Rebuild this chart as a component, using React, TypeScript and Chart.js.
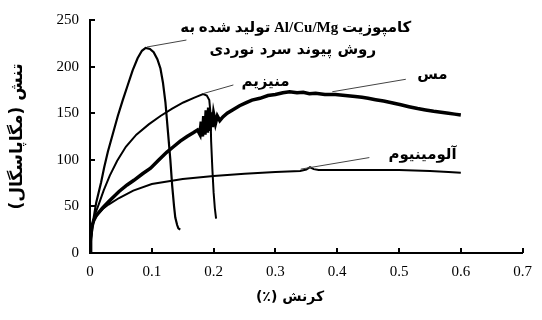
import React, { useEffect, useRef } from "react";
import { Chart, registerables } from "chart.js";

Chart.register(...registerables);

// Composite Al/Cu/Mg (cold roll bonded)
const compositeStrain = [0, 0.002, 0.005, 0.01, 0.018, 0.023, 0.029, 0.037, 0.045, 0.053, 0.061, 0.069, 0.077, 0.084, 0.09, 0.097, 0.103, 0.109, 0.114, 0.118, 0.122, 0.126, 0.13, 0.133, 0.136, 0.138, 0.141, 0.143, 0.146];
const compositeStress = [0, 17, 34, 54, 76, 92, 109, 128, 147, 164, 180, 196, 209, 217, 220, 219, 215.5, 208, 198, 183, 162, 131, 100, 72, 50, 38, 30, 26.5, 25];

// Magnesium
const magnesiumStrain = [0, 0.002, 0.005, 0.009, 0.014, 0.022, 0.032, 0.044, 0.058, 0.075, 0.095, 0.114, 0.133, 0.151, 0.168, 0.183, 0.189, 0.193, 0.195, 0.196, 0.198, 0.2, 0.202, 0.204];
const magnesiumStress = [0, 20, 33, 43, 52, 67, 83, 99, 114, 127, 138, 147, 155, 161.5, 166.5, 170.5, 169, 164, 150, 120, 90, 65, 48, 37];

// Copper
const copperStrain = [0, 0.001, 0.003, 0.006, 0.01, 0.02, 0.03, 0.047, 0.06, 0.071, 0.085, 0.098, 0.11, 0.124, 0.135, 0.146, 0.157, 0.167, 0.174, 0.178, 0.18, 0.182, 0.184, 0.186, 0.188, 0.19, 0.192, 0.194, 0.196, 0.198, 0.2, 0.203, 0.206, 0.21, 0.215, 0.222, 0.232, 0.242, 0.252, 0.262, 0.275, 0.288, 0.3, 0.312, 0.323, 0.335, 0.345, 0.355, 0.365, 0.38, 0.397, 0.413, 0.429, 0.44, 0.45, 0.462, 0.475, 0.49, 0.503, 0.516, 0.53, 0.543, 0.556, 0.568, 0.58, 0.59, 0.6];
const copperStress = [0, 15, 28, 35, 40, 48, 55, 66, 73, 78, 85, 91, 99, 108, 114, 120, 125, 129, 132, 127, 141, 125, 147, 127, 153, 129, 156, 131, 151, 135, 149, 139, 147, 142, 146, 150, 154, 158, 161, 164, 166, 169, 170, 172, 173, 172, 172.5, 171, 171.5, 170, 170, 169, 168, 167, 166, 164.5, 163, 161, 159, 157, 155, 153.5, 152, 151, 150, 149, 148];

// Aluminium
const aluminiumStrain = [0, 0.002, 0.004, 0.008, 0.013, 0.02, 0.03, 0.047, 0.07, 0.1, 0.15, 0.2, 0.25, 0.3, 0.34, 0.35, 0.356, 0.362, 0.37, 0.4, 0.45, 0.5, 0.55, 0.58, 0.6];
const aluminiumStress = [0, 22, 30, 37, 42, 47, 52, 59, 67, 74, 79.5, 82.5, 85, 87, 88, 89.5, 92, 90, 89, 89, 89, 89, 88, 87, 86];

// Axis ticks
const xTickValues = [0, 0.1, 0.2, 0.3, 0.4, 0.5, 0.6, 0.7];
const yTickValues = [0, 50, 100, 150, 200, 250];

// Axis titles
const xAxisTitle = "کرنش (٪)";
const yAxisTitle = "تنش (مگاپاسگال)";

// Curve labels and their leader lines (in data units)
const labelTexts = ["کامپوزیت Al/Cu/Mg تولید شده به", "روش پیوند سرد نوردی", "منیزیم", "مس", "آلومینیوم"];
const labelStrain = [0.333, 0.328, 0.284, 0.554, 0.538];
const labelStress = [241, 217.5, 183.5, 191, 105];
const leaderFromStrain = [0.092, 0.183, 0.392, 0.341];
const leaderFromStress = [221, 171, 173, 90];
const leaderToStrain = [0.156, 0.232, 0.511, 0.452];
const leaderToStress = [228.5, 180.3, 186.4, 102.4];

const toPoints = (xs: number[], ys: number[]) => xs.map((x, i) => ({ x, y: ys[i] }));

const PERSIAN_FONT = '"DejaVu Sans", sans-serif';
const SERIF_FONT = '"Liberation Serif", "Times New Roman", serif';

const decorPlugin = {
  id: "decor",
  afterDraw(chart: any) {
    const ctx = chart.ctx as CanvasRenderingContext2D;
    const xs = chart.scales.x;
    const ys = chart.scales.y;
    const area = chart.chartArea;
    ctx.save();
    // inward tick marks
    ctx.strokeStyle = "#000";
    ctx.lineWidth = 2;
    ctx.beginPath();
    xTickValues.forEach((v) => {
      if (v === 0) return;
      const px = Math.round(xs.getPixelForValue(v));
      ctx.moveTo(px, area.bottom);
      ctx.lineTo(px, area.bottom - 5);
    });
    yTickValues.forEach((v) => {
      if (v === 0) return;
      const py = Math.round(ys.getPixelForValue(v));
      ctx.moveTo(area.left, py);
      ctx.lineTo(area.left + 5, py);
    });
    ctx.stroke();

    // leader lines
    ctx.strokeStyle = "#444";
    ctx.lineWidth = 1;
    ctx.beginPath();
    leaderFromStrain.forEach((x0, i) => {
      ctx.moveTo(xs.getPixelForValue(x0), ys.getPixelForValue(leaderFromStress[i]));
      ctx.lineTo(xs.getPixelForValue(leaderToStrain[i]), ys.getPixelForValue(leaderToStress[i]));
    });
    ctx.stroke();

    // curve labels
    ctx.fillStyle = "#000";
    (ctx as any).direction = "rtl";
    ctx.textAlign = "center";
    ctx.textBaseline = "middle";
    labelTexts.forEach((t, i) => {
      ctx.font = i === 0 ? `bold 15px "Liberation Serif", ${PERSIAN_FONT}` : `bold 15px ${PERSIAN_FONT}`;
      ctx.fillText(t, xs.getPixelForValue(labelStrain[i]), ys.getPixelForValue(labelStress[i]));
    });

    // axis titles
    ctx.font = `bold 14px ${PERSIAN_FONT}`;
    ctx.fillText(xAxisTitle, 290, 297);
    ctx.translate(18, (area.top + area.bottom) / 2);
    ctx.rotate(-Math.PI / 2);
    ctx.font = `bold 17px ${PERSIAN_FONT}`;
    ctx.fillText(yAxisTitle, 0, 0);
    ctx.restore();
  },
};

export default function App() {
  const canvasRef = useRef<HTMLCanvasElement | null>(null);

  useEffect(() => {
    document.body.style.margin = "0";
    const canvas = canvasRef.current;
    if (!canvas) return;
    const lineDs = (data: { x: number; y: number }[], width: number) => ({
      data,
      borderColor: "#000",
      backgroundColor: "#000",
      borderWidth: width,
      pointRadius: 0,
      showLine: true,
      tension: 0,
      fill: false,
    });
    const chart = new Chart(canvas, {
      type: "scatter",
      data: {
        datasets: [
          lineDs(toPoints(aluminiumStrain, aluminiumStress), 2),
          lineDs(toPoints(magnesiumStrain, magnesiumStress), 2),
          lineDs(toPoints(compositeStrain, compositeStress), 2.2),
          lineDs(toPoints(copperStrain, copperStress), 3.5),
        ],
      },
      options: {
        animation: false,
        responsive: true,
        maintainAspectRatio: false,
        layout: { padding: { top: 20, right: 11, left: 0, bottom: 0 } },
        plugins: { legend: { display: false }, tooltip: { enabled: false } },
        scales: {
          x: {
            type: "linear",
            min: 0,
            max: 0.7,
            afterFit: (s: any) => {
              s.height = 67;
            },
            afterBuildTicks: (s: any) => {
              s.ticks = xTickValues.map((v) => ({ value: v }));
            },
            grid: { display: false, drawTicks: false },
            border: { display: true, color: "#000", width: 2 },
            ticks: {
              padding: 10,
              color: "#000",
              font: { family: SERIF_FONT, size: 15 },
              maxRotation: 0,
              callback: (v: any) => (Number(v) === 0 ? "0" : Number(v).toFixed(1)),
            },
          },
          y: {
            type: "linear",
            min: 0,
            max: 250,
            afterFit: (s: any) => {
              s.width = 90;
            },
            afterBuildTicks: (s: any) => {
              s.ticks = yTickValues.map((v) => ({ value: v }));
            },
            grid: { display: false, drawTicks: false },
            border: { display: true, color: "#000", width: 2 },
            ticks: {
              padding: 11,
              color: "#000",
              font: { family: SERIF_FONT, size: 15 },
            },
          },
        },
      },
      plugins: [decorPlugin],
    });
    return () => chart.destroy();
  }, []);

  return (
    <div style={{ position: "relative", width: 542, height: 320 }}>
      <canvas ref={canvasRef} />
    </div>
  );
}
